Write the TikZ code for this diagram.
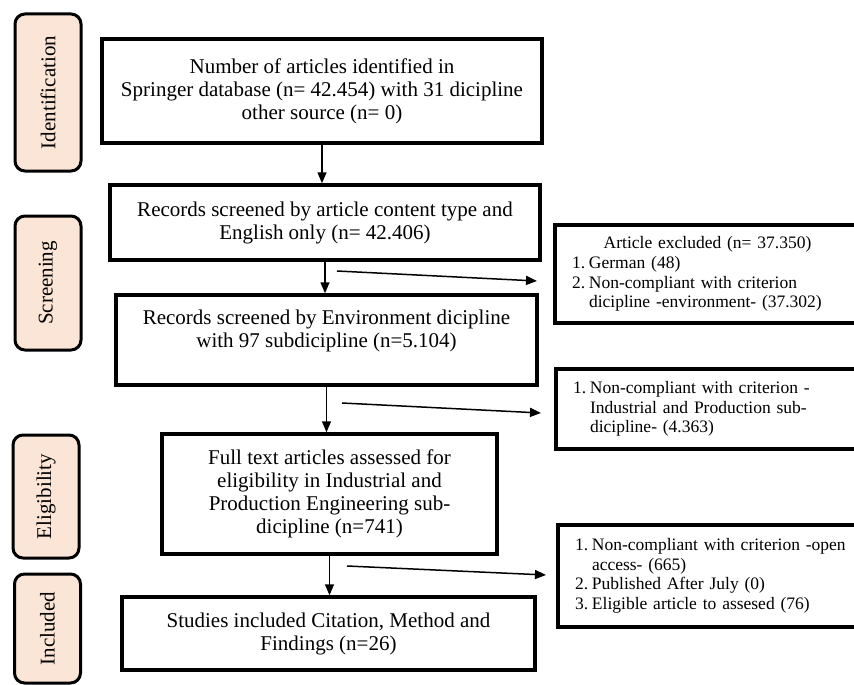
\documentclass[tikz,border=0pt]{standalone}
\usepackage{fontspec}
\setmainfont{Liberation Serif}
\usepackage{tikz}
\usetikzlibrary{arrows.meta}

\definecolor{stagecolor}{HTML}{FBE5D6}

\newcommand{\exitem}[2]{\makebox[17pt][l]{#1.}\mbox{#2}}
\newcommand{\exmore}[1]{\hspace*{17pt}\mbox{#1}}

\begin{document}
\begin{tikzpicture}[x=1pt, y=-1pt, line width=1.5pt,
    stagebox/.style={draw, line width=3pt, rounded corners=10pt, fill=stagecolor,
      rotate=90, minimum height=66pt, inner sep=0pt,
      font=\fontsize{21}{23}\selectfont},
    flowbox/.style={draw, line width=3.5pt, fill=white, align=center, inner sep=0pt,
      font=\fontsize{21}{23}\selectfont},
    exclbox/.style={draw, line width=3.5pt, fill=white, align=left, inner xsep=17pt,
      inner ysep=0pt, font=\fontsize{17.5}{19.6}\selectfont},
    arr/.style={-{Triangle[length=11pt, width=9pt]}, line width=1.5pt}]

    \useasboundingbox (0,0) rectangle (854,685);
    \clip (0,0) rectangle (854,685);

    % draw stage labels
    \node[stagebox, minimum width=157pt] (identlab) at (48, 92.5) {Identification};
    \node[stagebox, minimum width=134pt] (screenlab) at (48, 283) {Screening};
    \node[stagebox, minimum width=123pt] (eliglab) at (46, 496.5) {Eligibility};
    \node[stagebox, minimum width=109pt] (incllab) at (47.5, 628.5) {Included};

    % draw flow boxes
    \node[flowbox, minimum width=440pt, minimum height=104pt] (ident) at (322, 91)
      {Number of articles identified in\\ Springer database (n= 42.454) with 31 dicipline\\ other source (n= 0)};
    \node[flowbox, minimum width=430pt, minimum height=75pt] (screen) at (325, 222.5)
      {Records screened by article content type and\\ English only (n= 42.406)};
    \node[flowbox, minimum width=421pt, minimum height=90pt] (envir) at (326.5, 340)
      {Records screened by Environment dicipline\\ with 97 subdicipline (n=5.104)\\ \mbox{}};
    \node[flowbox, minimum width=335pt, minimum height=120pt] (elig) at (329.5, 494)
      {Full text articles assessed for\\ eligibility in Industrial and\\ Production Engineering sub-\\ dicipline (n=741)};
    \node[flowbox, minimum width=413pt, minimum height=73pt] (incl) at (328.5, 633.5)
      {Studies included Citation, Method and\\ Findings (n=26)};

    % draw excluded boxes
    \node[exclbox, text width=271pt, minimum height=98pt] (excl1) at (707.5, 274)
      {\makebox[\linewidth][c]{Article excluded (n= 37.350)}\\
       \exitem{1}{German (48)}\\
       \exitem{2}{Non-compliant with criterion}\\
       \exmore{dicipline -environment- (37.302)}};
    \node[exclbox, text width=270pt, minimum height=80pt] (excl2) at (708, 409)
      {\exitem{1}{Non-compliant with criterion -}\\
       \exmore{Industrial and Production sub-}\\
       \exmore{dicipline- (4.363)}};
    \node[exclbox, text width=268pt, minimum height=102pt] (excl3) at (709, 576)
      {\exitem{1}{Non-compliant with criterion -open}\\
       \exmore{access- (665)}\\
       \exitem{2}{Published After July (0)}\\
       \exitem{3}{Eligible article to assesed (76)}};

    % draw arrows down the flow
    \draw[arr] (ident.south) -- (ident.south |- screen.north);
    \draw[arr] (screen.south) -- (screen.south |- envir.north);
    \draw[arr] (envir.south) -- (envir.south |- elig.north);
    \draw[arr] (elig.south) -- (elig.south |- incl.north);

    % draw arrows to excluded boxes
    \coordinate (out1) at (337, 271);
    \coordinate (in1) at (537, 281);
    \coordinate (out2) at (342, 403);
    \coordinate (in2) at (541, 413);
    \coordinate (out3) at (347, 566);
    \coordinate (in3) at (546, 575);
    \draw[arr] (out1) -- (in1);
    \draw[arr] (out2) -- (in2);
    \draw[arr] (out3) -- (in3);

\end{tikzpicture}
\end{document}
